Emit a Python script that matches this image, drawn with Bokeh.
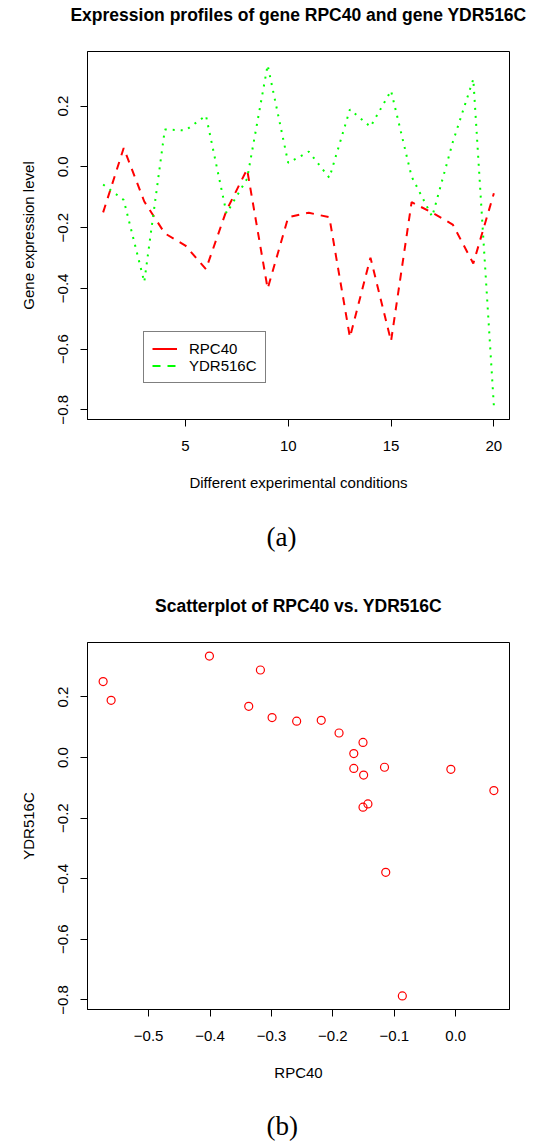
from bokeh.plotting import figure
from bokeh.layouts import column
from bokeh.models import (Title, Legend, LegendItem, FixedTicker,
                          CustomJSTickFormatter, Range1d, ColumnDataSource)
from bokeh.embed import file_html
from bokeh.resources import INLINE

# ---------------- data ----------------
conditions = list(range(1, 21))
rpc40 = [-0.150, 0.062, -0.114, -0.219, -0.259, -0.337, -0.143, -0.008, -0.401, -0.166,
         -0.151, -0.166, -0.561, -0.299, -0.574, -0.116, -0.151, -0.190, -0.318, -0.087]
ydr516c = [-0.058, -0.109, -0.379, 0.123, 0.120, 0.169, -0.153, -0.039, 0.335, 0.013,
           0.050, -0.036, 0.189, 0.132, 0.251, -0.032, -0.164, 0.081, 0.289, -0.787]
x_ticks_a = [5, 10, 15, 20]
y_ticks = [-0.8, -0.6, -0.4, -0.2, 0.0, 0.2]
x_ticks_b = [-0.5, -0.4, -0.3, -0.2, -0.1, 0.0]

title_a = "Expression profiles of gene RPC40 and gene YDR516C"
title_b = "Scatterplot of RPC40 vs. YDR516C"
xlabel_a = "Different experimental conditions"
ylabel_a = "Gene expression level"
xlabel_b = "RPC40"
ylabel_b = "YDR516C"
legend_labels = ["RPC40", "YDR516C"]

FONT = "Liberation Sans"
SERIF = "Liberation Serif"
RED = "#FF0000"
GREEN = "#00FF00"

minus_fmt = CustomJSTickFormatter(code="return tick.toFixed(1).replace('-', '\u2212');")


def rrange(vals):
    lo, hi = min(vals), max(vals)
    d = (hi - lo) * 0.04
    return Range1d(lo - d, hi + d)


def spacer(gap):
    # an empty (white) title used only to reserve vertical space
    return Title(text=" ", text_font=FONT, text_font_size="1px", standoff=gap,
                 text_color="white")


def style(p, title_text):
    p.outline_line_color = "black"
    p.outline_line_width = 1
    p.outline_line_alpha = 1
    p.background_fill_color = "white"
    p.border_fill_color = "white"
    p.grid.visible = False
    for ax in (p.xaxis[0], p.yaxis[0]):
        ax.major_tick_out = 7
        ax.major_tick_in = 0
        ax.minor_tick_out = 0
        ax.minor_tick_in = 0
        ax.axis_line_color = "black"
        ax.major_tick_line_color = "black"
        ax.major_label_text_font = FONT
        ax.major_label_text_font_size = "15px"
        ax.major_label_text_color = "black"
        ax.axis_label_text_font = FONT
        ax.axis_label_text_font_size = "15px"
        ax.axis_label_text_font_style = "normal"
        ax.axis_label_text_color = "black"
    p.xaxis[0].major_label_standoff = 14
    p.xaxis[0].axis_label_standoff = 20
    p.yaxis[0].major_label_standoff = 12
    p.yaxis[0].axis_label_standoff = 19
    p.yaxis[0].major_label_orientation = "vertical"
    # main title: spacer nearest to the frame, then the title text
    p.add_layout(spacer(24), "above")
    p.add_layout(Title(text=title_text, align="center", text_font=FONT,
                       text_font_size="17.5px", text_font_style="bold",
                       text_color="black", standoff=0), "above")


def sub_label(p, text, gap):
    p.add_layout(spacer(gap), "below")
    p.add_layout(Title(text=text, align="left", offset=179, text_font=SERIF,
                       text_font_size="27px", text_font_style="normal",
                       text_color="black", standoff=0), "below")


all_vals = rpc40 + ydr516c

# ---------------- panel (a) ----------------
p1 = figure(width=527, height=575, output_backend="svg", toolbar_location=None,
            x_range=rrange(conditions), y_range=rrange(all_vals),
            min_border_left=87, min_border_right=18, min_border_top=51,
            min_border_bottom=156)
style(p1, title_a)
p1.xaxis[0].ticker = FixedTicker(ticks=x_ticks_a)
p1.yaxis[0].ticker = FixedTicker(ticks=y_ticks)
p1.yaxis[0].formatter = minus_fmt
p1.xaxis[0].axis_label = xlabel_a
p1.yaxis[0].axis_label = ylabel_a

src = ColumnDataSource(dict(x=conditions, rpc=rpc40, ydr=ydr516c))
p1.line("x", "rpc", source=src, line_color=RED, line_width=2, line_dash="8 7")
p1.line("x", "ydr", source=src, line_color=GREEN, line_width=2, line_dash="2 6")

# legend glyphs (styles as in the original legend; no visible data)
nan = float("nan")
lg_src = ColumnDataSource(dict(x=[nan, nan], y=[nan, nan]))
r_leg1 = p1.line("x", "y", source=lg_src, line_color=RED, line_width=2)
r_leg2 = p1.line("x", "y", source=lg_src, line_color=GREEN, line_width=2, line_dash="8 7")
legend = Legend(items=[LegendItem(label=legend_labels[0], renderers=[r_leg1]),
                       LegendItem(label=legend_labels[1], renderers=[r_leg2])],
                location=(56, 36), label_text_font=FONT, label_text_font_size="15px",
                label_text_color="black",
                glyph_width=25, glyph_height=17, label_height=17, spacing=0,
                padding=8, margin=0, border_line_color="black", border_line_width=1,
                background_fill_alpha=1, label_standoff=12)
p1.add_layout(legend, "center")
sub_label(p1, "(a)", 23)

# ---------------- panel (b) ----------------
p2 = figure(width=527, height=567, output_backend="svg", toolbar_location=None,
            x_range=rrange(rpc40), y_range=rrange(all_vals),
            min_border_left=87, min_border_right=18, min_border_top=67,
            min_border_bottom=133)
style(p2, title_b)
p2.xaxis[0].ticker = FixedTicker(ticks=x_ticks_b)
p2.xaxis[0].formatter = minus_fmt
p2.yaxis[0].ticker = FixedTicker(ticks=y_ticks)
p2.yaxis[0].formatter = minus_fmt
p2.xaxis[0].axis_label = xlabel_b
p2.yaxis[0].axis_label = ylabel_b
p2.scatter(rpc40, ydr516c, marker="circle", size=8, fill_color=None,
           line_color=RED, line_width=1.2)
sub_label(p2, "(b)", 22)

layout = column(p1, p2, spacing=0)
open("out.html", "w").write(file_html(layout, INLINE))
